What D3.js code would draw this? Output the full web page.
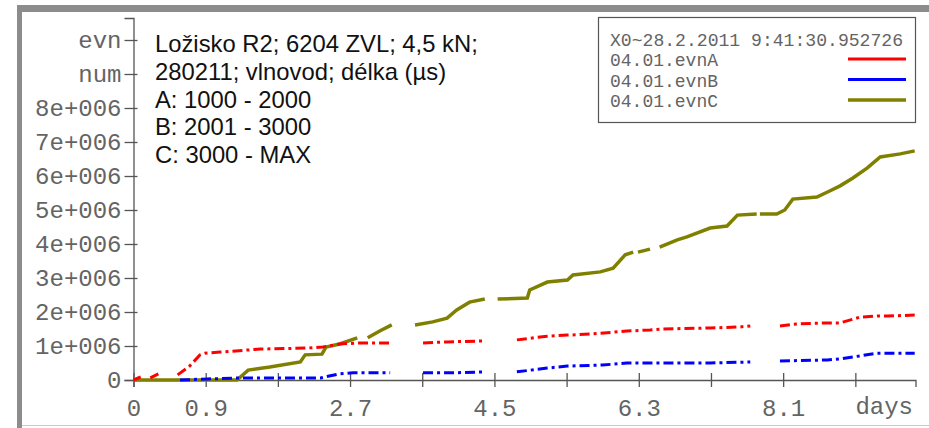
<!DOCTYPE html>
<html>
<head>
<meta charset="utf-8">
<script src="https://cdn.jsdelivr.net/npm/d3@7"></script>
<style>
  body { margin: 0; background: #fff; }
</style>
</head>
<body>
<div id="chart"></div>
<script>
// cumulative event counts, [day, count]; null = gap in the record
var evnA = [[0,0],[0.09,90000],null,[0.21,60000],[0.31,180000],null,[0.55,150000],[0.70,410000],[0.83,740000],[0.89,790000],
    [1.08,820000],[1.58,910000],[2.16,940000],[2.36,970000],[2.57,1060000],[2.82,1090000],[3.20,1090000],null,
    [3.61,1090000],[3.91,1120000],[4.36,1150000],null,[4.78,1180000],[5.16,1290000],[5.41,1320000],[5.69,1350000],
    [6.15,1440000],[6.44,1470000],[6.60,1500000],[7.19,1530000],[7.56,1560000],[7.69,1590000],null,
    [8.06,1590000],[8.27,1650000],[8.65,1680000],[8.81,1680000],[9.06,1850000],[9.27,1880000],[9.40,1880000],[9.74,1910000]];

var evnB = [[0.58,0],[0.92,30000],[1.33,60000],[2.33,60000],[2.57,180000],[2.74,210000],[3.20,210000],null,
    [3.61,210000],[3.95,210000],[4.38,240000],null,[4.78,240000],[5.16,350000],[5.41,410000],[5.85,440000],
    [6.15,500000],[6.60,500000],[7.19,500000],[7.69,530000],null,[8.06,560000],[8.65,590000],[8.81,620000],
    [9.06,710000],[9.27,790000],[9.74,790000]];

var evnC = [[0,0],[1.29,0],[1.43,290000],[1.70,380000],[2.08,530000],[2.14,740000],[2.35,760000],[2.40,970000],
    [2.57,1060000],[2.79,1240000],null,[2.92,1240000],[3.07,1440000],[3.22,1620000],null,[3.51,1620000],
    [3.73,1710000],[3.91,1820000],[4.03,2060000],[4.19,2290000],[4.38,2380000],null,[4.54,2380000],[4.91,2410000],
    [4.94,2650000],[5.16,2880000],[5.41,2940000],[5.48,3090000],[5.82,3180000],[5.98,3290000],[6.13,3680000],
    [6.23,3760000],null,[6.29,3760000],[6.44,3850000],null,[6.56,3910000],[6.78,4120000],[6.90,4210000],
    [7.19,4470000],[7.40,4530000],[7.53,4850000],[7.77,4880000],null,[7.81,4880000],[8.02,4880000],[8.12,5000000],
    [8.22,5320000],[8.52,5380000],[8.68,5560000],[8.81,5710000],[8.97,5940000],[9.15,6240000],[9.31,6560000],
    [9.56,6650000],[9.74,6740000]];

var seriesNames = ["04.01.evnA", "04.01.evnB", "04.01.evnC"];
var seriesColors = ["#ff0000", "#0000ff", "#808000"];

var yTicks = [0, 1e6, 2e6, 3e6, 4e6, 5e6, 6e6, 7e6, 8e6, 9e6, 1e7];
var yTickLabels = ["0", "1e+006", "2e+006", "3e+006", "4e+006", "5e+006", "6e+006", "7e+006", "8e+006", "num", "evn"];
var xTicks = [0, 0.9, 1.8, 2.7, 3.6, 4.5, 5.4, 6.3, 7.2, 8.1, 9.0];
var xTickLabels = ["0", "0.9", "", "2.7", "", "4.5", "", "6.3", "", "8.1", ""];

var infoLines = ["Ložisko R2; 6204 ZVL; 4,5 kN;", "280211; vlnovod; délka (µs)", "A: 1000 - 2000", "B: 2001 - 3000", "C: 3000 - MAX"];
var legendTitle = "X0~28.2.2011 9:41:30.952726";

function init() {
    var W = 929, H = 428;
    var mono = "'Liberation Mono', 'Courier New', monospace";
    var textGray = "#646464";

    var svg = d3.select("#chart").append("svg")
        .attr("width", W)
        .attr("height", H);

    // window frame
    svg.append("rect").attr("x", 0).attr("y", 0).attr("width", W).attr("height", H).attr("fill", "#fff");
    svg.append("rect").attr("x", 17).attr("y", 5).attr("width", W - 17).attr("height", 7).attr("fill", "#8c8c8c");
    svg.append("rect").attr("x", 17).attr("y", 5).attr("width", 5).attr("height", H - 5).attr("fill", "#8c8c8c");
    svg.append("line").attr("x1", 22).attr("x2", W).attr("y1", 425.5).attr("y2", 425.5)
        .attr("stroke", "#c8c8c8").attr("stroke-width", 1);

    var xScale = d3.scaleLinear().domain([0, 9.75]).range([133.5, 915.5]);
    var yScale = d3.scaleLinear().domain([0, 1e7 * 362 / 340]).range([380, 18]);

    // y axis
    var yAxis = d3.axisLeft(yScale)
        .tickValues(yTicks)
        .tickSize(9)
        .tickPadding(3)
        .tickFormat(function(d, i) { return yTickLabels[i]; });
    var gy = svg.append("g")
        .attr("transform", "translate(133.5,0)")
        .call(yAxis);
    gy.select(".domain").attr("stroke", "#555").attr("stroke-width", 1.3);
    gy.selectAll(".tick line").attr("x1", 4).attr("stroke", "#555").attr("stroke-width", 1.3);
    gy.selectAll(".tick text")
        .attr("font-family", mono).attr("font-size", 24).attr("fill", textGray);

    // x axis
    var xAxis = d3.axisBottom(xScale)
        .tickValues(xTicks)
        .tickSize(7)
        .tickPadding(12)
        .tickFormat(function(d, i) { return xTickLabels[i]; });
    var gx = svg.append("g")
        .attr("transform", "translate(0,380)")
        .call(xAxis);
    gx.select(".domain").attr("stroke", "#555").attr("stroke-width", 1.3);
    gx.selectAll(".tick line").attr("y1", -7).attr("stroke", "#555").attr("stroke-width", 1.3);
    gx.selectAll(".tick text")
        .attr("font-family", mono).attr("font-size", 24).attr("fill", textGray);
    svg.append("text")
        .attr("x", 913).attr("y", 414)
        .attr("text-anchor", "end")
        .attr("font-family", mono).attr("font-size", 24).attr("fill", textGray)
        .text("days");

    // series lines
    var line = d3.line()
        .defined(function(d) { return d !== null; })
        .x(function(d) { return xScale(d[0]); })
        .y(function(d) { return yScale(d[1]); });

    var series = [
        { data: evnC, color: seriesColors[2], width: 3.5, dash: null },
        { data: evnA, color: seriesColors[0], width: 3, dash: "10,4,3,4" },
        { data: evnB, color: seriesColors[1], width: 3, dash: "10,4,3,4" }
    ];
    svg.selectAll("path.series")
        .data(series)
        .enter()
        .append("path")
        .attr("class", "series")
        .attr("fill", "none")
        .attr("stroke", function(d) { return d.color; })
        .attr("stroke-width", function(d) { return d.width; })
        .attr("stroke-dasharray", function(d) { return d.dash; })
        .attr("d", function(d) { return line(d.data); });

    // info text
    svg.append("g").selectAll("text")
        .data(infoLines)
        .enter()
        .append("text")
        .attr("x", 155)
        .attr("y", function(d, i) { return 52 + i * 27.8; })
        .attr("font-family", "'Liberation Sans', Arial, sans-serif")
        .attr("font-size", 23.8)
        .attr("fill", "#111")
        .text(function(d) { return d; });

    // legend
    var lg = svg.append("g");
    lg.append("rect")
        .attr("x", 598.5).attr("y", 17.5).attr("width", 317).attr("height", 105)
        .attr("fill", "#fff").attr("stroke", "#555").attr("stroke-width", 1.2);
    lg.append("text")
        .attr("x", 610).attr("y", 46)
        .attr("font-family", mono).attr("font-size", 18).attr("fill", textGray)
        .attr("textLength", 293).attr("lengthAdjust", "spacingAndGlyphs")
        .text(legendTitle);
    var items = lg.selectAll("g.item")
        .data(seriesNames)
        .enter()
        .append("g")
        .attr("class", "item")
        .attr("transform", function(d, i) { return "translate(0," + (i * 20.5) + ")"; });
    items.append("text")
        .attr("x", 610).attr("y", 66)
        .attr("font-family", mono).attr("font-size", 18).attr("fill", textGray)
        .text(function(d) { return d; });
    items.append("line")
        .attr("x1", 848).attr("x2", 906).attr("y1", 59).attr("y2", 59)
        .attr("stroke", function(d, i) { return seriesColors[i]; })
        .attr("stroke-width", function(d, i) { return i == 2 ? 3.5 : 3; });
}

window.addEventListener("load", init);
</script>
</body>
</html>
